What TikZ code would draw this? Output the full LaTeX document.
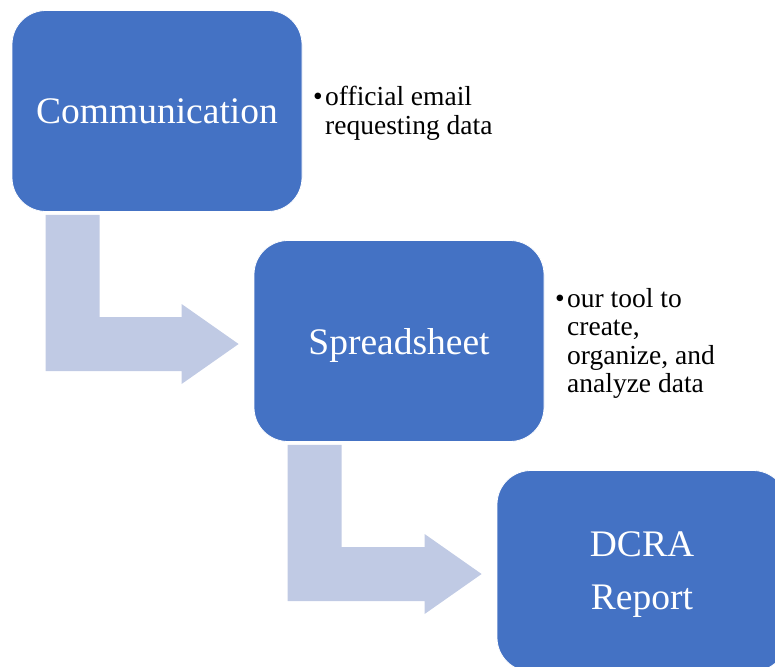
\documentclass[tikz,border=0pt]{standalone}
\usepackage{fontspec}
\setmainfont{Liberation Serif}
\usetikzlibrary{calc}
\definecolor{boxblue}{HTML}{4472C4}
\definecolor{arrowblue}{HTML}{C0CAE4}
\def \boxwidth {290pt}
\def \boxheight {201pt}
\newcommand{\bul}{\makebox[12pt][l]{\textbullet}}
\newcommand{\bentarrow}[2]{%
\fill[arrowblue] let \p1 = (#1.south west), \p2 = (#2.west) in
  (\x1 + 34pt, \y1 - 3pt) -- (\x1 + 88pt, \y1 - 3pt) -- (\x1 + 88pt, \y2 + 24pt)
  -- (\x2 - 72pt, \y2 + 24pt) -- (\x2 - 72pt, \y2 + 37pt) -- (\x2 - 15pt, \y2 - 3pt)
  -- (\x2 - 72pt, \y2 - 43pt) -- (\x2 - 72pt, \y2 - 30pt) -- (\x1 + 34pt, \y2 - 30pt) -- cycle;}
\tikzset{
  box/.style = {draw = white, line width = 0.8pt, fill = boxblue, text = white, rounded corners = 34pt,
    minimum width = \boxwidth, minimum height = \boxheight, align = center, text depth = 0pt,
    font = \fontsize{37.5}{53}\selectfont},
  note/.style = {inner sep = 0pt, anchor = base west, font = \fontsize{27.5}{28.5}\selectfont}
}

\begin{document}
\begin{tikzpicture}[x = 1pt, y = -1pt]
\useasboundingbox (0, 0) rectangle (775, 666);

\node (comm) [box] at (157, 111) {Communication};
\node (sheet) [box] at (399, 341) {Spreadsheet};
\node (report) [box] at (642, 571) {DCRA\\Report};

\node (commnote) [note] at (313, 106) {\begin{tabular}[t]{@{}l@{}l@{}}\bul & official email\\ & requesting data\end{tabular}};
\node (sheetnote) [note] at (555, 307) {\begin{tabular}[t]{@{}l@{}l@{}}\bul & our tool to\\ & create,\\ & organize, and\\ & analyze data\end{tabular}};

\bentarrow{comm}{sheet}
\bentarrow{sheet}{report}

\end{tikzpicture}
\end{document}
